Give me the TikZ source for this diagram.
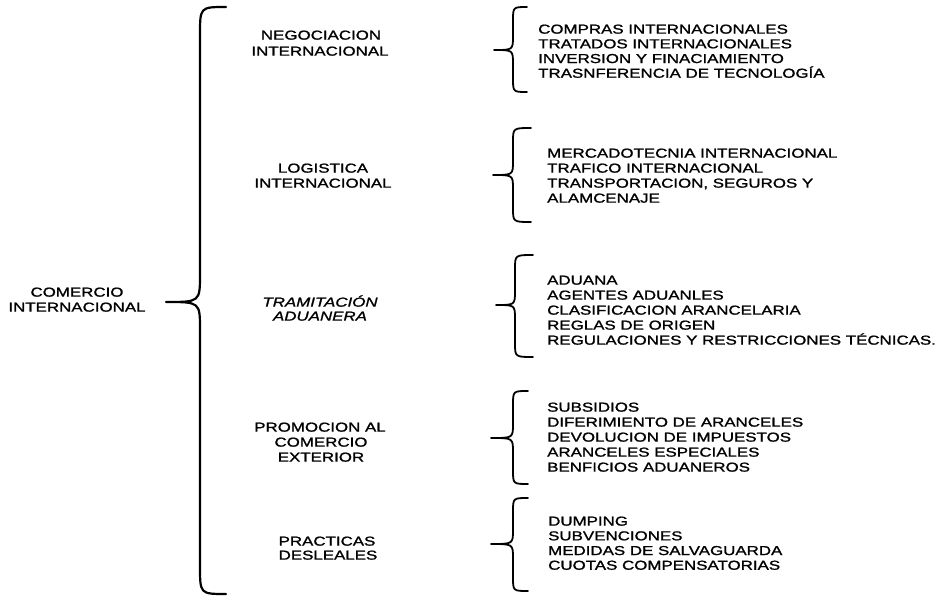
\documentclass[tikz,border=0pt]{standalone}
\usepackage{fontspec}
\setmainfont{Liberation Sans}[FakeStretch=1.3, FakeBold=1.3]
\tikzset{
  lbl/.style={font=\fontsize{13}{15}\selectfont, inner sep=0pt, anchor=base},
  itm/.style={font=\fontsize{13}{15}\selectfont, inner sep=0pt, anchor=base west},
}
% #1 line width, #2 x of ends, #3 x of stem, #4 x of tip, #5 y top, #6 y tip, #7 y bottom, #8 curl
\newcommand{\bracedraw}[8]{%
  \draw[line width=#1, line cap=round, line join=round]
    (#2,#5) .. controls (#3,#5) .. (#3,{#5+#8}) -- (#3,{#6-#8})
    .. controls (#3,#6) .. (#4,#6)
    .. controls (#3,#6) .. (#3,{#6+#8}) -- (#3,{#7-#8})
    .. controls (#3,#7) .. (#2,#7);}
\begin{document}
\begin{tikzpicture}[x=1pt,y=-1pt]
\useasboundingbox (0,0) rectangle (940,596);

% root
\node[lbl] (r1) at (77,{292+4.65}) {COMERCIO};
\node[lbl] (r2) at (77,{307+4.65}) {INTERNACIONAL};

% main brace
\bracedraw{2.2pt}{226}{200}{166}{7}{302}{594}{28}

% middle column
\node[lbl] (a1) at (321,{35+4.65}) {NEGOCIACION};
\node[lbl] (a2) at (320,{51+4.65}) {INTERNACIONAL};
\node[lbl] (b1) at (323,{168+4.65}) {LOGISTICA};
\node[lbl] (b2) at (323,{183+4.65}) {INTERNACIONAL};
\node[lbl] (c1) at (320,{302+4.65}) {\itshape TRAMITACIÓN};
\node[lbl] (c2) at (320,{316+4.65}) {\itshape ADUANERA};
\node[lbl] (d1) at (320,{427+4.65}) {PROMOCION AL};
\node[lbl] (d2) at (321,{442+4.65}) {COMERCIO};
\node[lbl] (d3) at (321,{457+4.65}) {EXTERIOR};
\node[lbl] (e1) at (327,{541+4.65}) {PRACTICAS};
\node[lbl] (e2) at (328,{555+4.65}) {DESLEALES};

% small braces
\bracedraw{1.8pt}{527}{513}{494}{7}{50}{92}{14}
\bracedraw{1.8pt}{531}{513}{493}{128}{175}{222}{14}
\bracedraw{1.8pt}{533}{515}{496}{255}{305}{357}{14}
\bracedraw{1.8pt}{528}{513}{491}{391}{438}{484}{14}
\bracedraw{1.8pt}{528}{513}{491}{498}{544}{591}{14}

% lists
\foreach \t [count=\i] in {COMPRAS INTERNACIONALES, TRATADOS INTERNACIONALES, INVERSION Y FINACIAMIENTO, TRASNFERENCIA DE TECNOLOGÍA}
  \node[itm] (la-\i) at (538,{29+14.7*(\i-1)+4.65}) {\t};
\foreach \t [count=\i] in {MERCADOTECNIA INTERNACIONAL, TRAFICO INTERNACIONAL, {TRANSPORTACION, SEGUROS Y}, ALAMCENAJE}
  \node[itm] (lb-\i) at (547,{153+15*(\i-1)+4.65}) {\t};
\foreach \t [count=\i] in {ADUANA, AGENTES ADUANLES, CLASIFICACION ARANCELARIA, REGLAS DE ORIGEN, REGULACIONES Y RESTRICCIONES TÉCNICAS.}
  \node[itm] (lc-\i) at (547,{280+15*(\i-1)+4.65}) {\t};
\foreach \t [count=\i] in {SUBSIDIOS, DIFERIMIENTO DE ARANCELES, DEVOLUCION DE IMPUESTOS, ARANCELES ESPECIALES, BENFICIOS ADUANEROS}
  \node[itm] (ld-\i) at (547,{407+15*(\i-1)+4.65}) {\t};
\foreach \t [count=\i] in {DUMPING, SUBVENCIONES, MEDIDAS DE SALVAGUARDA, CUOTAS COMPENSATORIAS}
  \node[itm] (le-\i) at (548,{521+14.7*(\i-1)+4.65}) {\t};
\end{tikzpicture}
\end{document}
